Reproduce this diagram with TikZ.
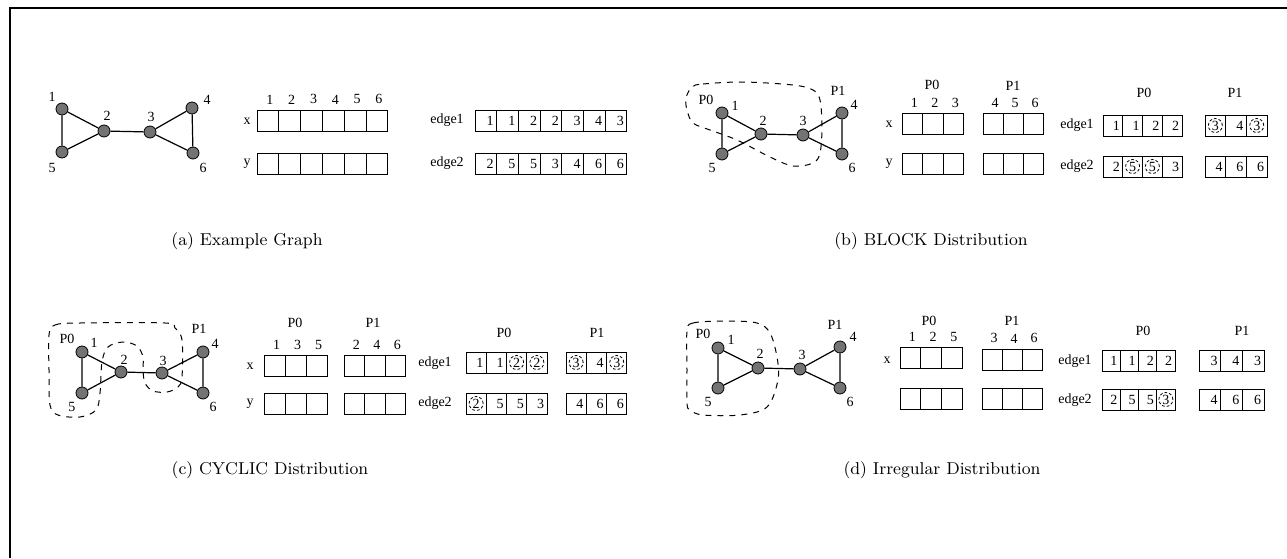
\documentclass[tikz,border=0pt]{standalone}
\usepackage{fontspec}
\newfontfamily\tms{Liberation Serif}
\usetikzlibrary{positioning}

% one row of array cells: name, left x, centre y, cell width (px), values
\newcommand{\cellrow}[5]{%
  \pgfmathsetmacro\cw{#4/2}
  \pgfmathsetmacro\tw{#4/2-3}
  \foreach \v [count=\i] in {#5}
    \node[cell, minimum width=\cw pt, text width=\tw pt] (#1-\i) at ({#2+(\i-0.5)*#4},#3) {\v};
}

\begin{document}
\begin{tikzpicture}[x=0.5pt, y=-0.5pt,
    vtx/.style={circle, draw=black, fill=black!55, line width=0.4pt, minimum size=6pt, inner sep=0pt},
    lbl/.style={font=\tms\fontsize{7}{8}\selectfont, inner sep=0pt},
    cell/.style={draw, line width=0.5pt, minimum height=10.5pt, inner xsep=1.5pt, inner ysep=0pt,
                 align=right, font=\tms\fontsize{7}{8}\selectfont},
    dnum/.style={circle, draw, dash pattern=on 1.4pt off 1pt, line width=0.4pt, minimum size=7pt,
                 inner sep=0pt, font=\tms\fontsize{7}{8}\selectfont},
    capt/.style={font=\fontsize{8.6}{10}\selectfont, inner sep=0pt},
    blob/.style={dashed, line width=0.5pt},
    edg/.style={line width=0.6pt}]
  \useasboundingbox (0,0) rectangle (1287,558);
  \draw[line width=1pt] (10,558) -- (10,8) -- (1287,8);

  % (a) example graph
  \node[vtx] (a1) at (62,109) {};
  \node[vtx] (a2) at (104,131) {};
  \node[vtx] (a3) at (150,132) {};
  \node[vtx] (a4) at (192,108) {};
  \node[vtx] (a5) at (62,152) {};
  \node[vtx] (a6) at (193,153) {};
  \draw[edg] (a1) -- (a2) -- (a5) -- (a1);
  \draw[edg] (a2) -- (a3);
  \draw[edg] (a3) -- (a4) -- (a6) -- (a3);
  \node[lbl] (la1) at (52,97) {1};
  \node[lbl] (la2) at (107,116) {2};
  \node[lbl] (la3) at (151,117) {3};
  \node[lbl] (la4) at (207,100) {4};
  \node[lbl] (la5) at (52,168) {5};
  \node[lbl] (la6) at (203,168) {6};

  \node[lbl] (ax) at (247,121) {x};
  \node[lbl] (ay) at (247,164) {y};
  \cellrow{ax}{257}{120.5}{21.8}{{},{},{},{},{},{}}
  \cellrow{ay}{257}{164}{21.8}{{},{},{},{},{},{}}
  \foreach \n in {1,...,6}
    \node[lbl, above=2.5pt of ax-\n, xshift=1pt] (acol\n) {\n};

  \node[lbl] (ae1) at (447,120) {edge1};
  \node[lbl] (ae2) at (447,163) {edge2};
  \cellrow{aea}{475}{120.5}{21.7}{1,1,2,2,3,4,3}
  \cellrow{aeb}{475}{163.5}{21.7}{2,5,5,3,4,6,6}

  \node[capt] (capa) at (247,241) {(a) Example Graph};

  % (b) BLOCK distribution
  \draw[blob] plot[smooth cycle, tension=0.55] coordinates {(692,87) (703,84) (743,82) (793,85)
    (813,90) (820,100) (822,127) (820,153) (813,163) (793,166) (770,157) (737,140) (710,130)
    (693,123) (687,110) (686,98)};
  \node[vtx] (b1) at (722,113) {};
  \node[vtx] (b2) at (761,134) {};
  \node[vtx] (b3) at (803,135) {};
  \node[vtx] (b4) at (842,113) {};
  \node[vtx] (b5) at (722,154) {};
  \node[vtx] (b6) at (842,154) {};
  \draw[edg] (b1) -- (b2) -- (b5) -- (b1);
  \draw[edg] (b2) -- (b3);
  \draw[edg] (b3) -- (b4) -- (b6) -- (b3);
  \node[lbl] (lbp0) at (706,100) {P0};
  \node[lbl] (lbp1) at (838,91) {P1};
  \node[lbl] (lb1) at (735,106) {1};
  \node[lbl] (lb2) at (763,121) {2};
  \node[lbl] (lb3) at (803,121) {3};
  \node[lbl] (lb4) at (854,105) {4};
  \node[lbl] (lb5) at (712,168) {5};
  \node[lbl] (lb6) at (852,168) {6};

  \node[lbl] (bx) at (889,124) {x};
  \node[lbl] (by) at (889,164) {y};
  \cellrow{bxa}{902}{124}{20.5}{{},{},{}}
  \cellrow{bya}{902}{164}{20.5}{{},{},{}}
  \cellrow{bxb}{983}{124}{20}{{},{},{}}
  \cellrow{byb}{983}{164}{20}{{},{},{}}
  \foreach \n [count=\i] in {1,2,3}
    \node[lbl, above=2.5pt of bxa-\i, xshift=1pt] (bcola\i) {\n};
  \foreach \n [count=\i] in {4,5,6}
    \node[lbl, above=2.5pt of bxb-\i, xshift=1pt] (bcolb\i) {\n};
  \node[lbl] (bxp0) at (932,85) {P0};
  \node[lbl] (bxp1) at (1013,86) {P1};

  \node[lbl] (be1) at (1077,125) {edge1};
  \node[lbl] (be2) at (1077,166) {edge2};
  \node[lbl] (bep0) at (1144,93) {P0};
  \node[lbl] (bep1) at (1235,93) {P1};
  \cellrow{bea}{1103}{125.5}{19.75}{1,1,2,2}
  \cellrow{beb}{1205}{125.5}{20.7}{{},4,{}}
  \cellrow{bec}{1103}{166.5}{19.75}{2,{},{},3}
  \cellrow{bed}{1205}{166.5}{20.7}{4,6,6}
  \node[dnum] (bd1) at (beb-1) {3};
  \node[dnum] (bd2) at (beb-3) {3};
  \node[dnum] (bd3) at (bec-2) {5};
  \node[dnum] (bd4) at (bec-3) {5};

  \node[capt] (capb) at (931,241) {(b) BLOCK Distribution};

  % (c) CYCLIC distribution
  \draw[blob] plot[smooth cycle, tension=0.55] coordinates {(49,335) (55,325) (80,323) (165,323)
    (175,328) (182,340) (182,377) (178,387) (167,392) (153,391) (145,383) (143,370) (143,357)
    (137,346) (123,342) (108,347) (102,362) (100,393) (96,410) (80,417) (58,415) (50,405)
    (49,370)};
  \node[vtx] (c1) at (82,352) {};
  \node[vtx] (c2) at (121,372) {};
  \node[vtx] (c3) at (162,373) {};
  \node[vtx] (c4) at (203,352) {};
  \node[vtx] (c5) at (82,393) {};
  \node[vtx] (c6) at (203,393) {};
  \draw[edg] (c1) -- (c2) -- (c5) -- (c1);
  \draw[edg] (c2) -- (c3);
  \draw[edg] (c3) -- (c4) -- (c6) -- (c3);
  \node[lbl] (lcp0) at (67,339) {P0};
  \node[lbl] (lcp1) at (199,329) {P1};
  \node[lbl] (lc1) at (94,343) {1};
  \node[lbl] (lc2) at (124,360) {2};
  \node[lbl] (lc3) at (163,361) {3};
  \node[lbl] (lc4) at (215,344) {4};
  \node[lbl] (lc5) at (72,407) {5};
  \node[lbl] (lc6) at (213,407) {6};

  \node[lbl] (cx) at (250,366) {x};
  \node[lbl] (cy) at (250,404) {y};
  \cellrow{cxa}{264}{366}{21}{{},{},{}}
  \cellrow{cya}{264}{404}{21}{{},{},{}}
  \cellrow{cxb}{344}{366}{20.5}{{},{},{}}
  \cellrow{cyb}{344}{404}{20.5}{{},{},{}}
  \foreach \n [count=\i] in {1,3,5}
    \node[lbl, above=2.5pt of cxa-\i, xshift=1pt] (ccola\i) {\n};
  \foreach \n [count=\i] in {2,4,6}
    \node[lbl, above=2.5pt of cxb-\i, xshift=1pt] (ccolb\i) {\n};
  \node[lbl] (cxp0) at (295,323) {P0};
  \node[lbl] (cxp1) at (373,323) {P1};

  \node[lbl] (ce1) at (435,363) {edge1};
  \node[lbl] (ce2) at (435,403) {edge2};
  \node[lbl] (cep0) at (504,333) {P0};
  \node[lbl] (cep1) at (597,333) {P1};
  \cellrow{cea}{466}{362.5}{20.25}{1,1,{},{}}
  \cellrow{ceb}{566}{362.5}{20.3}{{},4,{}}
  \cellrow{cec}{466}{403.5}{20.25}{{},5,5,3}
  \cellrow{ced}{566}{403.5}{20.3}{4,6,6}
  \node[dnum] (cd1) at (cea-3) {2};
  \node[dnum] (cd2) at (cea-4) {2};
  \node[dnum] (cd3) at (ceb-1) {3};
  \node[dnum] (cd4) at (ceb-3) {3};
  \node[dnum] (cd5) at (cec-1) {2};

  \node[capt] (capc) at (270,470) {(c) CYCLIC Distribution};

  % (d) irregular distribution
  \draw[blob] plot[smooth cycle, tension=0.55] coordinates {(687,332) (693,323) (727,321) (757,323)
    (770,333) (777,357) (778,380) (767,407) (740,415) (703,415) (690,410) (687,403) (687,370)};
  \node[vtx] (d1) at (718,348) {};
  \node[vtx] (d2) at (758,368) {};
  \node[vtx] (d3) at (800,369) {};
  \node[vtx] (d4) at (840,347) {};
  \node[vtx] (d5) at (718,388) {};
  \node[vtx] (d6) at (840,388) {};
  \draw[edg] (d1) -- (d2) -- (d5) -- (d1);
  \draw[edg] (d2) -- (d3);
  \draw[edg] (d3) -- (d4) -- (d6) -- (d3);
  \node[lbl] (ldp0) at (703,334) {P0};
  \node[lbl] (ldp1) at (835,325) {P1};
  \node[lbl] (ld1) at (731,340) {1};
  \node[lbl] (ld2) at (760,354) {2};
  \node[lbl] (ld3) at (802,355) {3};
  \node[lbl] (ld4) at (853,337) {4};
  \node[lbl] (ld5) at (708,402) {5};
  \node[lbl] (ld6) at (850,402) {6};

  \node[lbl] (dx) at (887,360) {x};
  \cellrow{dxa}{900}{358}{20.7}{{},{},{}}
  \cellrow{dya}{900}{399}{20.7}{{},{},{}}
  \cellrow{dxb}{982}{359.5}{20}{{},{},{}}
  \cellrow{dyb}{982}{399}{20}{{},{},{}}
  \foreach \n [count=\i] in {1,2,5}
    \node[lbl, above=2.5pt of dxa-\i, xshift=1pt] (dcola\i) {\n};
  \foreach \n [count=\i] in {3,4,6}
    \node[lbl, above=2.5pt of dxb-\i, xshift=1pt] (dcolb\i) {\n};
  \node[lbl] (dxp0) at (929,321) {P0};
  \node[lbl] (dxp1) at (1012,321) {P1};

  \node[lbl] (de1) at (1075,361) {edge1};
  \node[lbl] (de2) at (1075,400) {edge2};
  \node[lbl] (dep0) at (1143,331) {P0};
  \node[lbl] (dep1) at (1242,331) {P1};
  \cellrow{dea}{1102}{361}{18.25}{1,1,2,2}
  \cellrow{deb}{1199}{361}{21.7}{3,4,3}
  \cellrow{dec}{1102}{399.5}{18.25}{2,5,5,{}}
  \cellrow{ded}{1199}{399.5}{21.7}{4,6,6}
  \node[dnum] (dd1) at (dec-4) {3};

  \node[capt] (capd) at (942,470) {(d) Irregular Distribution};
\end{tikzpicture}
\end{document}
